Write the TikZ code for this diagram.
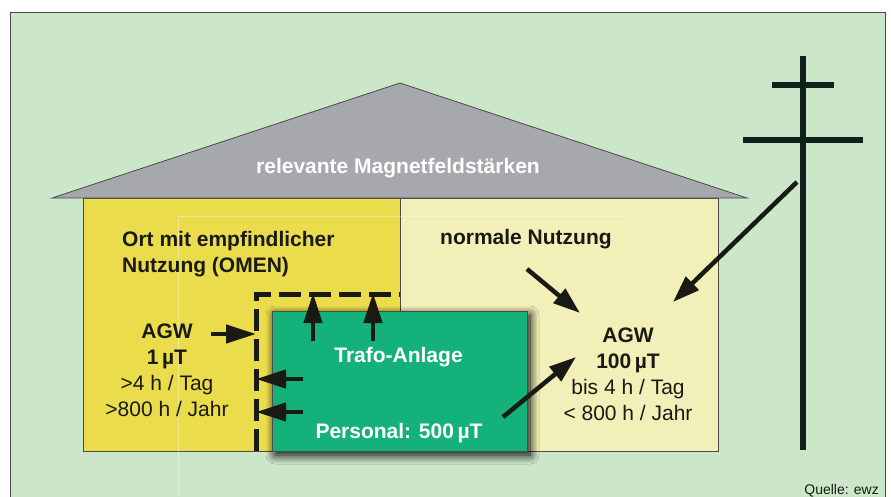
\documentclass[tikz,border=0pt]{standalone}
\usepackage{fontspec}
\setmainfont{Liberation Sans}
\usetikzlibrary{arrows.meta,shadows.blur}

\definecolor{bggreen}{HTML}{CBE6C9}
\definecolor{roofgray}{HTML}{A7A8AC}
\definecolor{omenyellow}{HTML}{EBDC4B}
\definecolor{normalyellow}{HTML}{F3EFB8}
\definecolor{trafogreen}{HTML}{14B27A}
\definecolor{framegray}{HTML}{4A4A4A}
\definecolor{ink}{HTML}{1A1A14}
\definecolor{polecolor}{HTML}{10201A}

\begin{document}
\begin{tikzpicture}[x=1pt, y=-1pt,
    wall/.style={draw=framegray, line width=0.8pt, inner sep=0pt},
    label/.style={anchor=base, inner sep=0pt, align=center, text=ink, font=\fontsize{21}{26}\selectfont},
    pfeil/.style={draw=ink, line width=4.5pt, -{Triangle[length=30pt, width=18pt]}},
    mast/.style={draw=polecolor, line width=5.5pt}]

    \useasboundingbox (0,0) rectangle (891,496);
    \fill[white] (0,0) rectangle (891,496);
    \draw[fill=bggreen, draw=framegray, line width=0.8pt] (10,12) rectangle (885,520);

    % walls and roof
    \node[wall, fill=omenyellow, minimum width=317pt, minimum height=253pt] (omen) at (241.5,324.5) {};
    \node[wall, fill=normalyellow, minimum width=318pt, minimum height=253pt] (normal) at (559,324.5) {};
    \draw[fill=roofgray, draw=framegray, line width=0.8pt] (52,198) -- (400,83) -- (747,198) -- cycle;
    \draw[white, opacity=0.35, line width=0.6pt] (178,496) |- (627,216);

    % mast
    \coordinate (masttop) at (803,56);
    \coordinate (mastfoot) at (803,450);
    \draw[mast] (masttop) -- (mastfoot);
    \draw[mast] (772,85) -- (834,85);
    \draw[mast] (743,140) -- (863,140);

    % zone border
    \coordinate (zonefoot) at (256,451);
    \coordinate (zonecorner) at (400,294);
    \draw[draw=ink, line width=5pt, dash pattern=on 22pt off 8pt] (zonefoot) |- (zonecorner);

    % trafo
    \node[draw=framegray, line width=0.8pt, fill=trafogreen, minimum width=255pt, minimum height=140pt,
        blur shadow={shadow xshift=3pt, shadow yshift=-4pt, shadow blur radius=9pt, shadow blur steps=12, shadow opacity=100}] (trafo) at (399.5,381) {};

    % texts
    \node[label, text=white, font=\fontsize{21}{26}\selectfont\bfseries] (title) at (398,173) {relevante Magnetfeldstärken};
    \node[label, anchor=base west, align=left, font=\fontsize{21}{26}\selectfont\bfseries] (text1) at (122,272) {Ort mit empfindlicher\\Nutzung (OMEN)};
    \node[label, anchor=base west, font=\fontsize{21}{26}\selectfont\bfseries] (text2) at (440,244) {normale Nutzung};
    \node[label] (agwleft) at (167,416) {\textbf{AGW}\\\textbf{1\,µT}\\>4 h / Tag\\>800 h / Jahr};
    \node[label] (agwright) at (628,420) {\textbf{AGW}\\\textbf{100\,µT}\\bis 4 h / Tag\\< 800 h / Jahr};
    \node[label, text=white, font=\fontsize{21}{26}\selectfont\bfseries] (text3) at (398.5,362) {Trafo-Anlage};
    \node[label, text=white, font=\fontsize{21}{26}\selectfont\bfseries] (text4) at (399,438) {Personal: 500\,µT};
    \node[label, anchor=base east, font=\fontsize{14}{16}\selectfont] (source) at (879,494) {Quelle: ewz};

    % agw -> zone
    \coordinate (a1) at (211,334);
    \coordinate (b1) at (256,334);
    \draw[pfeil] (a1) -- (b1);

    % trafo -> zone (up)
    \coordinate (a2) at (313,341);
    \coordinate (b2) at (313,293);
    \draw[pfeil] (a2) -- (b2);
    \coordinate (a3) at (373,341);
    \coordinate (b3) at (373,293);
    \draw[pfeil] (a3) -- (b3);

    % trafo -> zone (left)
    \coordinate (a4) at (303,379);
    \coordinate (b4) at (256,379);
    \draw[pfeil] (a4) -- (b4);
    \coordinate (a5) at (303,412);
    \coordinate (b5) at (256,412);
    \draw[pfeil] (a5) -- (b5);

    % trafo -> normal use
    \coordinate (a6) at (503,417);
    \coordinate (b6) at (576,357);
    \draw[pfeil, -{Triangle[length=27pt, width=18pt]}] (a6) -- (b6);

    % normal use -> agw
    \coordinate (a7) at (527,269);
    \coordinate (b7) at (580,313);
    \draw[pfeil, -{Triangle[length=27pt, width=18pt]}] (a7) -- (b7);

    % mast -> agw
    \coordinate (a8) at (797,182);
    \coordinate (b8) at (673,302);
    \draw[pfeil, -{Triangle[length=27pt, width=18pt]}] (a8) -- (b8);

\end{tikzpicture}
\end{document}
